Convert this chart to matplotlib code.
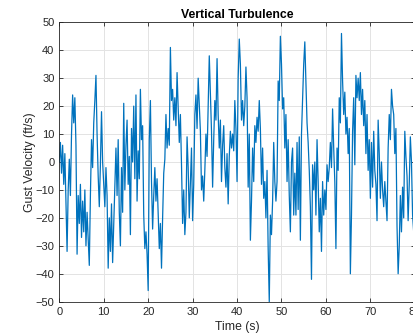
import numpy as np
import matplotlib
matplotlib.use("Agg")
import matplotlib.pyplot as plt

# gust velocity (ft/s), one value every 0.25 s
dt = 0.25
gust = [
    0, 7, -4, 6, -8, 3, -14, -32,
    -10, 1, -12, 10, 24, 14, 23, 6,
    -33, -12, -22, -8, -27, -14, -25, -10,
    -30, -18, -28, -37, -12, 8, -2, 14,
    22, 31, 10, -5, -16, -1, 18, 0,
    -8, -16, -2, -12, -38, -20, -32, -15,
    -36, -22, -8, 5, -12, 8, -18, -30,
    -2, -18, 21, -10, 6, 15, -8, 2,
    -26, 12, 0, 20, -6, 24, -14, 4,
    -6, 26, 8, 13, -19, -31, -25, -33,
    -46, 8, 22, -7, -24, -12, -2, -14,
    -6, -18, -31, -22, -38, -20, -4, 1,
    17, 5, 12, 6, 41, 22, 26, 15,
    23, 13, 32, 20, 7, 17, -1, -22,
    -10, -26, -18, 9, -2, -20, -7, 5,
    -21, -8, 17, 24, 12, 30, 20, 11,
    -10, -5, -14, -3, 10, 2, 20, 38,
    25, 11, -9, 8, 22, 15, 37, 17,
    5, 15, -7, 6, 13, -2, -9, 3,
    -15, 2, 11, 5, 10, 4, 22, 12,
    -7, 30, 44, 35, 15, 22, 13, 20,
    34, 23, -9, 10, -28, -14, 5, -7,
    13, 7, 16, 11, 22, 12, -8, 5,
    -13, -7, -20, -3, -31, -50, -19, -26,
    -14, 7, -7, -14, -7, 29, 22, 45,
    35, 19, 23, 5, 17, -7, 8, -12,
    -25, 0, 5, -19, -4, -19, 7, -17,
    9, -28, 10, 23, 35, 43, 29, 14,
    7, -3, -16, -42, -1, -10, 0, -19,
    8, -7, -25, -13, -32, -7, -19, -10,
    -17, -1, -7, -2, 7, -2, 19, 5,
    -7, -31, 5, -3, 23, 14, 46, 29,
    17, 25, 10, 16, 3, 12, -40, -19,
    11, 23, -1, 31, 23, 30, 22, 32,
    17, 26, 13, 22, 3, 17, -3, 8,
    -13, 7, -9, 11, -3, -8, -21, 15,
    3, -13, 0, -10, -16, -7, -14, -21,
    5, 17, 8, 26, 20, 17, 3, 12,
    -23, -40, -30, -12, -25, -9, -20, 11,
    2, -5, -21, -8, 9, 0, -19, -25,
    -5,
]
time = np.arange(len(gust)) * dt

plt.rcParams["font.family"] = ["Liberation Sans", "DejaVu Sans"]

fig = plt.figure(figsize=(4.13, 3.35), dpi=100)
ax = fig.add_axes([59.3 / 413, 33.3 / 335, 355.5 / 413, 279.4 / 335])

ax.plot(time, gust, color="#0072BD", lw=0.9)

ax.set_xlim(0, 80)
ax.set_ylim(-50, 50)
ax.set_xticks(np.arange(0, 81, 10))
ax.set_yticks(np.arange(-50, 51, 10))
ax.grid(True, color="#e3e3e3", lw=0.7)
ax.set_axisbelow(True)
ax.tick_params(direction="in", length=3, width=0.6, colors="#262626",
               labelsize=8, top=True, right=True)
for s in ax.spines.values():
    s.set_color("#262626")
    s.set_linewidth(0.6)

ax.set_title("Vertical Turbulence", fontsize=8.8, fontweight="bold", pad=3)
ax.set_xlabel("Time (s)", fontsize=8.8, color="#262626", labelpad=3)
ax.set_ylabel("Gust Velocity (ft/s)", fontsize=8.8, color="#262626", labelpad=0)

fig.savefig("out.png", dpi=100)
